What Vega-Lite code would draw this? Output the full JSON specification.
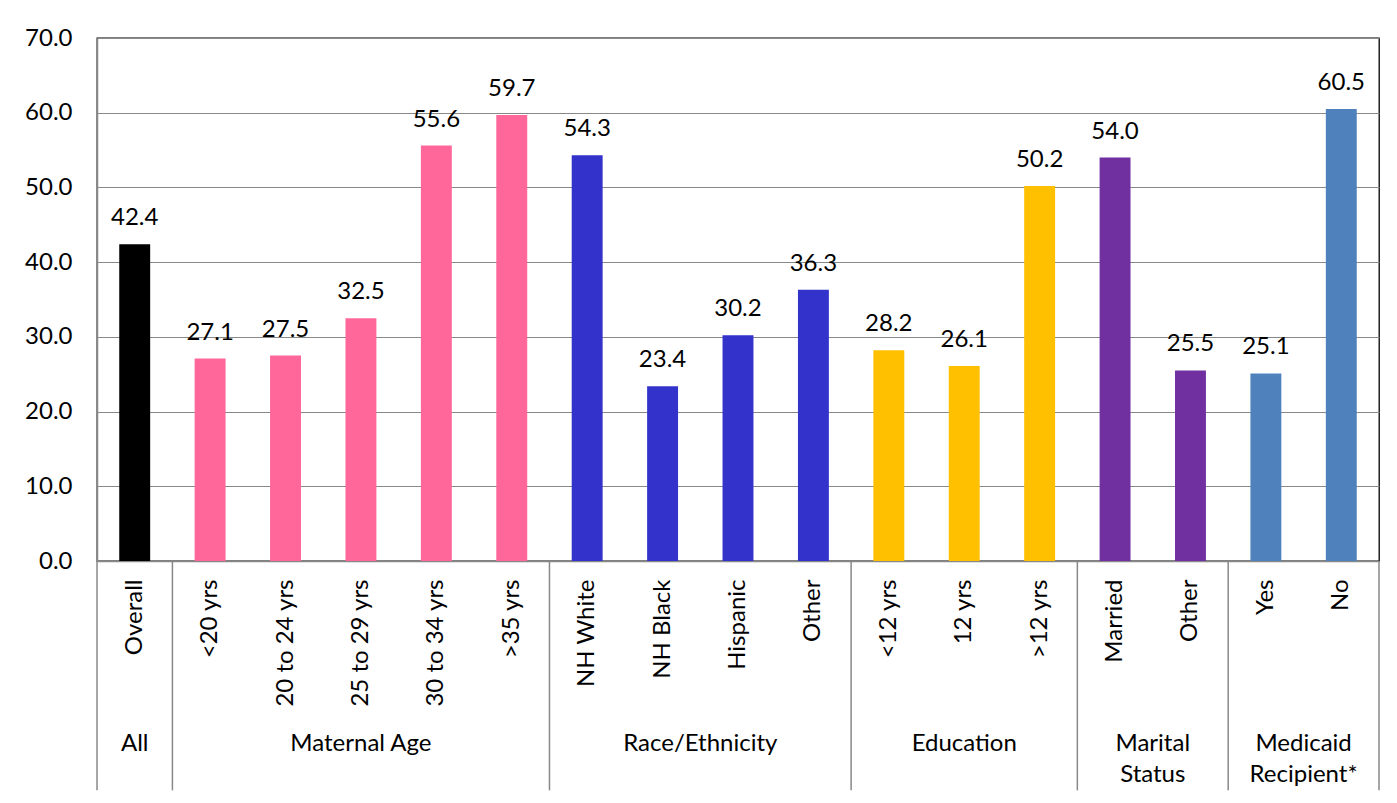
{
  "$schema": "https://vega.github.io/schema/vega-lite/v6.json",
  "width": 1282,
  "height": 523,
  "autosize": {"type": "none"},
  "padding": {"left": 97, "top": 38, "right": 18, "bottom": 242},
  "background": "white",
  "config": {
    "font": "Lato",
    "view": {"stroke": "#000000", "strokeWidth": 1.3},
    "text": {"font": "Lato", "fontSize": 24, "color": "#000000"}
  },
  "datasets": {
    "bars": [
      {"id": "Overall", "group": "All", "value": 42.4},
      {"id": "<20 yrs", "group": "Maternal Age", "value": 27.1},
      {"id": "20 to 24 yrs", "group": "Maternal Age", "value": 27.5},
      {"id": "25 to 29 yrs", "group": "Maternal Age", "value": 32.5},
      {"id": "30 to 34 yrs", "group": "Maternal Age", "value": 55.6},
      {"id": ">35 yrs", "group": "Maternal Age", "value": 59.7},
      {"id": "NH White", "group": "Race/Ethnicity", "value": 54.3},
      {"id": "NH Black", "group": "Race/Ethnicity", "value": 23.4},
      {"id": "Hispanic", "group": "Race/Ethnicity", "value": 30.2},
      {"id": "Other", "group": "Race/Ethnicity", "value": 36.3},
      {"id": "<12 yrs", "group": "Education", "value": 28.2},
      {"id": "12 yrs", "group": "Education", "value": 26.1},
      {"id": ">12 yrs", "group": "Education", "value": 50.2},
      {"id": "Married", "group": "Marital Status", "value": 54.0},
      {"id": "Other ", "group": "Marital Status", "value": 25.5},
      {"id": "Yes", "group": "Medicaid Recipient*", "value": 25.1},
      {"id": "No", "group": "Medicaid Recipient*", "value": 60.5}
    ],
    "groups": [
      {"name": "All", "mid": 0.5},
      {"name": "Maternal Age", "mid": 3.5},
      {"name": "Race/Ethnicity", "mid": 8},
      {"name": "Education", "mid": 11.5},
      {"name": "Marital\nStatus", "mid": 14},
      {"name": "Medicaid\nRecipient*", "mid": 16}
    ],
    "separators": [
      {"pos": 0}, {"pos": 1}, {"pos": 6}, {"pos": 10}, {"pos": 13}, {"pos": 15}, {"pos": 17}
    ]
  },
  "layer": [
    {
      "data": {"name": "bars"},
      "mark": {"type": "bar"},
      "encoding": {
        "x": {
          "field": "id", "type": "nominal", "sort": null,
          "scale": {"paddingInner": 0.59, "paddingOuter": 0.295},
          "axis": {
            "title": null, "labelAngle": -90, "labelAlign": "right", "labelBaseline": "middle",
            "labelPadding": 18, "ticks": false, "domainColor": "#888888", "domainWidth": 1.5,
            "labelFont": "Lato", "labelFontSize": 24, "labelColor": "#000000", "labelLimit": 300
          }
        },
        "y": {
          "field": "value", "type": "quantitative",
          "scale": {"domain": [0, 70], "nice": false},
          "axis": {
            "title": null, "values": [0, 10, 20, 30, 40, 50, 60, 70], "format": ".1f",
            "ticks": false, "labelPadding": 25, "domainColor": "#888888", "domainWidth": 1.5,
            "gridColor": "#888888", "gridWidth": 1, "grid": true,
            "labelFont": "Lato", "labelFontSize": 24, "labelColor": "#000000"
          }
        },
        "color": {
          "field": "group", "type": "nominal", "legend": null,
          "scale": {
            "domain": ["All", "Maternal Age", "Race/Ethnicity", "Education", "Marital Status", "Medicaid Recipient*"],
            "range": ["#000000", "#FF6699", "#3333CC", "#FFC000", "#7030A0", "#4F81BD"]
          }
        }
      }
    },
    {
      "data": {"name": "bars"},
      "mark": {"type": "text", "baseline": "alphabetic", "dy": -19, "fontSize": 24},
      "encoding": {
        "x": {"field": "id", "type": "nominal", "sort": null, "scale": {"paddingInner": 0.59, "paddingOuter": 0.295}, "axis": null},
        "y": {"field": "value", "type": "quantitative"},
        "text": {"field": "value", "type": "quantitative", "format": ".1f"}
      }
    },
    {
      "data": {"name": "separators"},
      "mark": {"type": "rule", "color": "#888888", "strokeWidth": 1.5},
      "encoding": {
        "x": {"field": "pos", "type": "quantitative", "scale": {"domain": [0, 17], "nice": false, "zero": false}, "axis": null},
        "y": {"datum": 0},
        "y2": {"datum": -30.7}
      }
    },
    {
      "data": {"name": "groups"},
      "mark": {"type": "text", "baseline": "alphabetic", "dy": 190, "lineBreak": "\n", "lineHeight": 31, "align": "center", "fontSize": 24},
      "encoding": {
        "x": {"field": "mid", "type": "quantitative", "scale": {"domain": [0, 17], "nice": false, "zero": false}, "axis": null},
        "y": {"datum": 0},
        "text": {"field": "name", "type": "nominal"}
      }
    }
  ],
  "resolve": {"scale": {"x": "independent"}, "axis": {"x": "independent"}}
}
